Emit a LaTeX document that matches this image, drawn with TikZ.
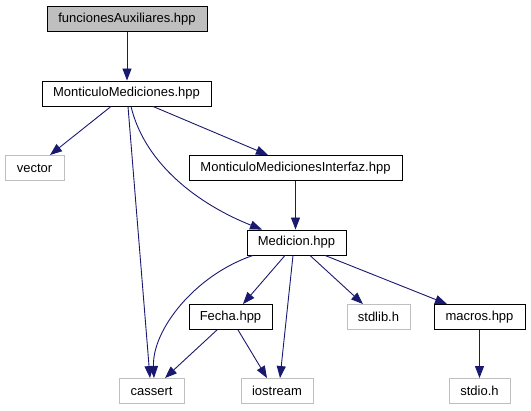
\documentclass[tikz,border=0pt]{standalone}
\usepackage{fontspec}
\setmainfont{Liberation Sans}
\usetikzlibrary{arrows.meta}
\definecolor{edgeblue}{HTML}{191970}
\definecolor{extgray}{HTML}{BFBFBF}
\tikzset{
  box/.style={draw=black, line width=0.9pt, minimum height=25pt, inner sep=0pt, font=\fontsize{13}{15}\selectfont, fill=white},
  extbox/.style={box, draw=extgray},
  rootbox/.style={box, fill=extgray},
  dep/.style={draw=edgeblue, line width=0.9pt, -{Triangle[length=12pt,width=9pt]}, fill=none},
}
\begin{document}
\begin{tikzpicture}[x=1pt, y={(0pt,-1pt)}]
\useasboundingbox (0,0) rectangle (531,411);
\node[rootbox, minimum width=160pt] (fa) at (127,19) {funcionesAuxiliares.hpp};
\node[box, minimum width=169pt] (mm) at (126.5,93.5) {MonticuloMediciones.hpp};
\node[extbox, minimum width=59pt] (vec) at (34.5,168) {vector};
\node[box, minimum width=213pt] (mmi) at (295.5,168) {MonticuloMedicionesInterfaz.hpp};
\node[box, minimum width=99pt] (med) at (296.5,242.5) {Medicion.hpp};
\node[box, minimum width=83pt] (fecha) at (230.5,317) {Fecha.hpp};
\node[extbox, minimum width=63pt] (stdlib) at (378.5,317) {stdlib.h};
\node[box, minimum width=91pt] (macros) at (479.5,317) {macros.hpp};
\node[extbox, minimum width=65pt] (cassert) at (151.5,391) {cassert};
\node[extbox, minimum width=72pt] (iostream) at (277,391) {iostream};
\node[extbox, minimum width=61pt] (stdio) at (479.5,391) {stdio.h};

\draw[dep] (fa.south) -- (fa.south |- mm.north);
\draw[dep] ([xshift=-15.5pt]mm.south) -- ([xshift=15.5pt]vec.north);
\draw[dep] ([xshift=1.5pt]mm.south) -- ([xshift=-1.5pt]cassert.north);
\draw[dep] ([xshift=4.5pt]mm.south) .. controls (145,165) and (200,205) .. ([xshift=-34.5pt]med.north);
\draw[dep] ([xshift=26.5pt]mm.south) -- ([xshift=-27.5pt]mmi.north);
\draw[dep] (mmi.south) -- (mmi.south |- med.north);
\draw[dep] ([xshift=-43.5pt]med.south) .. controls (195,275) and (152,330) .. ([xshift=2.5pt]cassert.north);
\draw[dep] ([xshift=-11.5pt]med.south) -- ([xshift=12.5pt]fecha.north);
\draw[dep] ([xshift=-3.5pt]med.south) -- ([xshift=3pt]iostream.north);
\draw[dep] ([xshift=13.5pt]med.south) -- ([xshift=-15.5pt]stdlib.north);
\draw[dep] ([xshift=28.5pt]med.south) -- ([xshift=-32.5pt]macros.north);
\draw[dep] ([xshift=-13.5pt]fecha.south) -- ([xshift=13.5pt]cassert.north);
\draw[dep] ([xshift=7.5pt]fecha.south) -- ([xshift=-10pt]iostream.north);
\draw[dep] (macros.south) -- (macros.south |- stdio.north);
\end{tikzpicture}
\end{document}
